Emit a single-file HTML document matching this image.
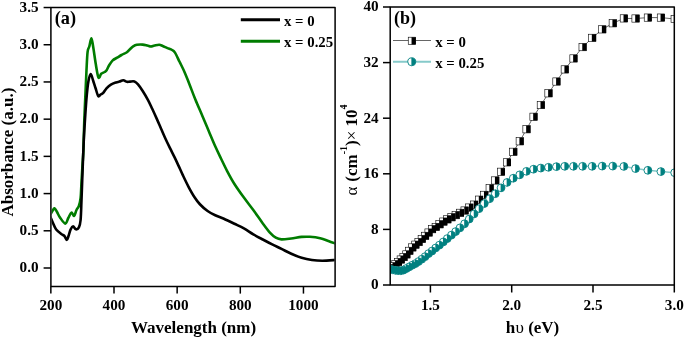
<!DOCTYPE html>
<html><head><meta charset="utf-8"><style>
html,body{margin:0;padding:0;background:#fff;width:685px;height:339px;overflow:hidden}
svg{display:block;will-change:transform;filter:blur(0.3px)}
</style></head><body>
<svg width="685" height="339" viewBox="0 0 685 339">
<defs><clipPath id="ca"><rect x="51.6" y="8.3" width="283" height="277.5"/></clipPath>
<clipPath id="cb"><rect x="390.3" y="7" width="284" height="278"/></clipPath></defs>
<rect width="685" height="339" fill="#fff"/>
<g clip-path="url(#ca)" fill="none" stroke-width="2.6" stroke-linejoin="round" stroke-linecap="round">
<path d="M50.60,214.00 C50.92,213.47 51.85,211.75 52.50,210.80 C53.15,209.85 53.75,208.10 54.50,208.30 C55.25,208.50 56.08,210.47 57.00,212.00 C57.92,213.53 58.62,215.57 60.00,217.50 C61.38,219.43 63.92,223.52 65.30,223.60 C66.68,223.68 67.28,219.83 68.30,218.00 C69.32,216.17 70.43,212.97 71.40,212.60 C72.37,212.23 73.25,216.23 74.10,215.80 C74.95,215.37 75.70,211.67 76.50,210.00 C77.30,208.33 78.22,207.80 78.90,205.80 C79.58,203.80 80.15,202.30 80.60,198.00 C81.05,193.70 81.28,185.50 81.60,180.00 C81.92,174.50 82.20,170.00 82.50,165.00 C82.80,160.00 83.10,157.50 83.40,150.00 C83.70,142.50 83.97,129.17 84.30,120.00 C84.63,110.83 85.03,103.33 85.40,95.00 C85.77,86.67 86.13,77.20 86.50,70.00 C86.87,62.80 87.13,55.72 87.60,51.80 C88.07,47.88 88.67,48.77 89.30,46.50 C89.93,44.23 90.75,38.12 91.40,38.20 C92.05,38.28 92.45,42.57 93.20,47.00 C93.95,51.43 95.02,59.70 95.90,64.80 C96.78,69.90 97.62,76.10 98.50,77.60 C99.38,79.10 100.17,74.73 101.20,73.80 C102.23,72.87 103.80,72.60 104.70,72.00 C105.60,71.40 105.88,71.28 106.60,70.20 C107.32,69.12 107.98,67.13 109.00,65.50 C110.02,63.87 111.35,61.70 112.70,60.40 C114.05,59.10 115.63,58.60 117.10,57.70 C118.57,56.80 119.87,55.92 121.50,55.00 C123.13,54.08 125.42,53.23 126.90,52.20 C128.38,51.17 129.35,49.78 130.40,48.80 C131.45,47.82 132.13,46.97 133.20,46.30 C134.27,45.63 135.22,45.08 136.80,44.80 C138.38,44.52 140.93,44.47 142.70,44.60 C144.47,44.73 146.03,45.28 147.40,45.60 C148.77,45.92 149.72,46.50 150.90,46.50 C152.08,46.50 153.12,45.88 154.50,45.60 C155.88,45.32 157.83,44.73 159.20,44.80 C160.57,44.87 161.33,45.45 162.70,46.00 C164.07,46.55 165.83,47.43 167.40,48.10 C168.97,48.77 170.83,49.25 172.10,50.00 C173.37,50.75 173.75,50.63 175.00,52.60 C176.25,54.57 177.95,58.50 179.57,61.80 C181.19,65.10 183.06,68.67 184.70,72.40 C186.34,76.13 187.65,79.68 189.43,84.20 C191.21,88.72 193.18,94.17 195.36,99.50 C197.54,104.83 200.24,110.87 202.50,116.20 C204.76,121.53 206.77,126.40 208.93,131.50 C211.09,136.60 213.45,142.30 215.46,146.80 C217.47,151.30 219.04,154.46 220.99,158.50 C222.94,162.54 224.94,166.87 227.15,171.07 C229.36,175.27 231.50,179.33 234.26,183.70 C237.02,188.07 240.53,192.92 243.70,197.30 C246.87,201.68 250.12,205.65 253.30,210.00 C256.48,214.35 260.03,219.65 262.80,223.40 C265.57,227.15 267.73,230.16 269.90,232.52 C272.07,234.88 273.87,236.44 275.80,237.58 C277.73,238.72 278.92,239.20 281.50,239.34 C284.08,239.48 287.95,238.84 291.30,238.43 C294.65,238.02 298.50,237.17 301.60,236.90 C304.70,236.63 306.80,236.58 309.90,236.80 C313.00,237.02 317.12,237.52 320.20,238.20 C323.28,238.88 325.77,239.97 328.40,240.90 C331.03,241.83 334.73,243.32 336.00,243.80" stroke="#007c00"/>
<path d="M50.60,217.40 C51.00,218.33 52.07,220.98 53.00,223.00 C53.93,225.02 54.82,227.67 56.20,229.50 C57.58,231.33 59.93,232.92 61.30,234.00 C62.67,235.08 63.47,235.00 64.40,236.00 C65.33,237.00 66.22,240.00 66.90,240.00 C67.58,240.00 67.88,237.75 68.50,236.00 C69.12,234.25 69.83,231.10 70.60,229.50 C71.37,227.90 72.23,226.43 73.10,226.40 C73.97,226.37 74.83,229.13 75.80,229.30 C76.77,229.47 78.10,228.95 78.90,227.40 C79.70,225.85 80.17,224.57 80.60,220.00 C81.03,215.43 81.17,208.33 81.50,200.00 C81.83,191.67 82.22,180.00 82.60,170.00 C82.98,160.00 83.35,149.17 83.80,140.00 C84.25,130.83 84.80,122.50 85.30,115.00 C85.80,107.50 86.28,100.58 86.80,95.00 C87.32,89.42 87.75,85.00 88.40,81.50 C89.05,78.00 89.92,74.17 90.70,74.00 C91.48,73.83 92.30,78.17 93.10,80.50 C93.90,82.83 94.65,85.42 95.50,88.00 C96.35,90.58 97.37,94.92 98.20,96.00 C99.03,97.08 99.70,94.97 100.50,94.50 C101.30,94.03 102.00,94.23 103.00,93.20 C104.00,92.17 105.18,89.73 106.50,88.30 C107.82,86.87 109.28,85.58 110.90,84.60 C112.52,83.62 114.77,82.90 116.20,82.40 C117.63,81.90 118.32,81.97 119.50,81.60 C120.68,81.23 122.07,80.17 123.30,80.20 C124.53,80.23 125.78,81.57 126.90,81.80 C128.02,82.03 128.75,81.65 130.00,81.60 C131.25,81.55 133.07,81.03 134.40,81.50 C135.73,81.97 136.62,82.82 138.00,84.40 C139.38,85.98 141.05,88.42 142.70,91.00 C144.35,93.58 146.33,96.95 147.90,99.87 C149.47,102.79 150.62,105.36 152.10,108.53 C153.58,111.70 155.28,115.47 156.80,118.87 C158.32,122.27 159.73,125.61 161.20,128.95 C162.67,132.29 164.13,135.73 165.60,138.93 C167.07,142.13 168.52,145.11 170.00,148.15 C171.48,151.19 173.07,154.23 174.50,157.18 C175.93,160.13 177.23,162.93 178.60,165.88 C179.97,168.83 181.07,171.44 182.70,174.88 C184.33,178.32 186.48,182.90 188.40,186.53 C190.32,190.16 192.28,193.74 194.20,196.69 C196.12,199.64 197.67,201.85 199.90,204.24 C202.13,206.63 205.05,209.18 207.60,211.02 C210.15,212.86 212.48,213.97 215.20,215.26 C217.92,216.54 220.70,217.32 223.90,218.73 C227.10,220.14 231.07,222.13 234.40,223.74 C237.73,225.35 240.75,226.64 243.90,228.40 C247.05,230.16 250.15,232.45 253.30,234.30 C256.45,236.15 259.65,237.82 262.80,239.50 C265.95,241.18 269.08,242.84 272.20,244.40 C275.32,245.96 278.32,247.30 281.50,248.87 C284.68,250.44 287.95,252.31 291.30,253.80 C294.65,255.29 298.17,256.77 301.60,257.80 C305.03,258.83 308.45,259.52 311.90,260.00 C315.35,260.48 318.28,260.70 322.30,260.70 C326.32,260.70 333.72,260.12 336.00,260.00" stroke="#000"/>
</g>
<g stroke="#000" stroke-width="1.5" fill="none" stroke-linejoin="round">
<rect x="50.9" y="7.6" width="284.2" height="278.9"/>
<line x1="43.6" y1="268.00" x2="50.9" y2="268.00"/>
<line x1="43.6" y1="230.79" x2="50.9" y2="230.79"/>
<line x1="43.6" y1="193.58" x2="50.9" y2="193.58"/>
<line x1="43.6" y1="156.37" x2="50.9" y2="156.37"/>
<line x1="43.6" y1="119.16" x2="50.9" y2="119.16"/>
<line x1="43.6" y1="81.95" x2="50.9" y2="81.95"/>
<line x1="43.6" y1="44.74" x2="50.9" y2="44.74"/>
<line x1="43.6" y1="7.53" x2="50.9" y2="7.53"/>
<line x1="50.85" y1="286.5" x2="50.85" y2="293.6"/>
<line x1="114.00" y1="286.5" x2="114.00" y2="293.6"/>
<line x1="177.15" y1="286.5" x2="177.15" y2="293.6"/>
<line x1="240.30" y1="286.5" x2="240.30" y2="293.6"/>
<line x1="303.45" y1="286.5" x2="303.45" y2="293.6"/>
</g>
<line x1="240.8" y1="19.8" x2="280" y2="19.8" stroke="#000" stroke-width="3"/>
<line x1="240.8" y1="41.3" x2="280" y2="41.3" stroke="#007c00" stroke-width="3"/>
<g font-family='"Liberation Serif", serif' font-weight="bold" fill="#000">
<text x="284" y="25.9" font-size="14.8">x = 0</text>
<text x="284" y="46.6" font-size="14.8">x = 0.25</text>
<text x="54.7" y="24.2" font-size="18.3">(a)</text>
<text x="38.6" y="272.30" font-size="15.2" text-anchor="end">0.0</text>
<text x="38.6" y="235.09" font-size="15.2" text-anchor="end">0.5</text>
<text x="38.6" y="197.88" font-size="15.2" text-anchor="end">1.0</text>
<text x="38.6" y="160.67" font-size="15.2" text-anchor="end">1.5</text>
<text x="38.6" y="123.46" font-size="15.2" text-anchor="end">2.0</text>
<text x="38.6" y="86.25" font-size="15.2" text-anchor="end">2.5</text>
<text x="38.6" y="49.04" font-size="15.2" text-anchor="end">3.0</text>
<text x="38.6" y="11.83" font-size="15.2" text-anchor="end">3.5</text>
<text x="50.85" y="310.0" font-size="15.2" text-anchor="middle">200</text>
<text x="114.00" y="310.0" font-size="15.2" text-anchor="middle">400</text>
<text x="177.15" y="310.0" font-size="15.2" text-anchor="middle">600</text>
<text x="240.30" y="310.0" font-size="15.2" text-anchor="middle">800</text>
<text x="303.45" y="310.0" font-size="15.2" text-anchor="middle">1000</text>
<text x="131" y="333" font-size="17">Wavelength (nm)</text>
<text transform="translate(13,216.6) rotate(-90)" font-size="17">Absorbance (a.u.)</text>
</g>
<g clip-path="url(#cb)">
<polyline points="674.69,19.00 660.91,17.60 647.88,17.60 635.55,18.50 623.86,18.41 612.77,23.27 602.22,29.37 592.18,37.88 582.62,47.11 573.49,58.45 564.78,69.42 556.45,81.53 548.48,93.32 540.85,105.05 533.53,116.78 526.51,129.25 519.76,141.31 513.28,151.81 507.05,162.35 501.05,171.79 495.27,180.47 489.69,188.31 484.32,194.89 479.13,199.68 474.12,204.62 469.28,207.56 464.60,210.52 460.07,212.85 455.69,215.13 451.45,217.29 447.33,219.38 443.35,221.61 439.48,224.31 435.73,226.95 432.08,229.18 428.55,232.56 425.11,235.89 421.77,239.03 418.52,242.07 415.36,244.69 412.28,247.45 409.29,250.87 406.37,254.44 403.53,257.06 400.77,259.54 398.07,262.03 395.44,264.22 392.87,266.32 390.37,268.22 387.92,269.31 385.54,270.26 383.21,271.37" fill="none" stroke="#666" stroke-width="1"/>
<polyline points="674.69,172.70 660.91,171.57 647.88,170.29 635.55,168.58 623.86,166.41 612.77,166.10 602.22,166.10 592.18,166.30 582.62,166.30 573.49,166.30 564.78,166.30 556.45,166.65 548.48,167.29 540.85,168.07 533.53,169.21 526.51,171.34 519.76,174.83 513.28,178.23 507.05,182.46 501.05,187.86 495.27,193.72 489.69,198.73 484.32,203.53 479.13,208.66 474.12,213.94 469.28,219.05 464.60,223.77 460.07,227.83 455.69,231.59 451.45,235.14 447.33,238.57 443.35,241.93 439.48,245.12 435.73,247.97 432.08,251.01 428.55,253.63 425.11,256.66 421.77,259.22 418.52,261.57 415.36,263.64 412.28,265.20 409.29,266.87 406.37,268.53 403.53,270.08 400.77,270.73 398.07,270.63 395.44,270.33 392.87,269.85 390.37,269.33 387.92,268.91 385.54,268.52 383.21,268.13" fill="none" stroke="#86caca" stroke-width="1.5"/>
<rect x="671.04" y="15.35" width="7.30" height="7.30" fill="#fff" stroke="#000" stroke-width="0.6"/>
<rect x="657.26" y="13.95" width="7.30" height="7.30" fill="#fff" stroke="#000" stroke-width="0.6"/>
<rect x="644.23" y="13.95" width="7.30" height="7.30" fill="#fff" stroke="#000" stroke-width="0.6"/>
<rect x="631.90" y="14.85" width="7.30" height="7.30" fill="#fff" stroke="#000" stroke-width="0.6"/>
<rect x="620.21" y="14.76" width="7.30" height="7.30" fill="#fff" stroke="#000" stroke-width="0.6"/>
<rect x="609.12" y="19.62" width="7.30" height="7.30" fill="#fff" stroke="#000" stroke-width="0.6"/>
<rect x="598.57" y="25.72" width="7.30" height="7.30" fill="#fff" stroke="#000" stroke-width="0.6"/>
<rect x="588.53" y="34.23" width="7.30" height="7.30" fill="#fff" stroke="#000" stroke-width="0.6"/>
<rect x="578.97" y="43.46" width="7.30" height="7.30" fill="#fff" stroke="#000" stroke-width="0.6"/>
<rect x="569.84" y="54.80" width="7.30" height="7.30" fill="#fff" stroke="#000" stroke-width="0.6"/>
<rect x="561.13" y="65.77" width="7.30" height="7.30" fill="#fff" stroke="#000" stroke-width="0.6"/>
<rect x="552.80" y="77.88" width="7.30" height="7.30" fill="#fff" stroke="#000" stroke-width="0.6"/>
<rect x="544.83" y="89.67" width="7.30" height="7.30" fill="#fff" stroke="#000" stroke-width="0.6"/>
<rect x="537.20" y="101.40" width="7.30" height="7.30" fill="#fff" stroke="#000" stroke-width="0.6"/>
<rect x="529.88" y="113.13" width="7.30" height="7.30" fill="#fff" stroke="#000" stroke-width="0.6"/>
<rect x="522.86" y="125.60" width="7.30" height="7.30" fill="#fff" stroke="#000" stroke-width="0.6"/>
<rect x="516.11" y="137.66" width="7.30" height="7.30" fill="#fff" stroke="#000" stroke-width="0.6"/>
<rect x="509.63" y="148.16" width="7.30" height="7.30" fill="#fff" stroke="#000" stroke-width="0.6"/>
<rect x="503.40" y="158.70" width="7.30" height="7.30" fill="#fff" stroke="#000" stroke-width="0.6"/>
<rect x="497.40" y="168.14" width="7.30" height="7.30" fill="#fff" stroke="#000" stroke-width="0.6"/>
<rect x="491.62" y="176.82" width="7.30" height="7.30" fill="#fff" stroke="#000" stroke-width="0.6"/>
<rect x="486.04" y="184.66" width="7.30" height="7.30" fill="#fff" stroke="#000" stroke-width="0.6"/>
<rect x="480.67" y="191.24" width="7.30" height="7.30" fill="#fff" stroke="#000" stroke-width="0.6"/>
<rect x="475.48" y="196.03" width="7.30" height="7.30" fill="#fff" stroke="#000" stroke-width="0.6"/>
<rect x="470.47" y="200.97" width="7.30" height="7.30" fill="#fff" stroke="#000" stroke-width="0.6"/>
<rect x="465.63" y="203.91" width="7.30" height="7.30" fill="#fff" stroke="#000" stroke-width="0.6"/>
<rect x="460.95" y="206.87" width="7.30" height="7.30" fill="#fff" stroke="#000" stroke-width="0.6"/>
<rect x="456.42" y="209.20" width="7.30" height="7.30" fill="#fff" stroke="#000" stroke-width="0.6"/>
<rect x="452.04" y="211.48" width="7.30" height="7.30" fill="#fff" stroke="#000" stroke-width="0.6"/>
<rect x="447.80" y="213.64" width="7.30" height="7.30" fill="#fff" stroke="#000" stroke-width="0.6"/>
<rect x="443.68" y="215.73" width="7.30" height="7.30" fill="#fff" stroke="#000" stroke-width="0.6"/>
<rect x="439.70" y="217.96" width="7.30" height="7.30" fill="#fff" stroke="#000" stroke-width="0.6"/>
<rect x="435.83" y="220.66" width="7.30" height="7.30" fill="#fff" stroke="#000" stroke-width="0.6"/>
<rect x="432.08" y="223.30" width="7.30" height="7.30" fill="#fff" stroke="#000" stroke-width="0.6"/>
<rect x="428.43" y="225.53" width="7.30" height="7.30" fill="#fff" stroke="#000" stroke-width="0.6"/>
<rect x="424.90" y="228.91" width="7.30" height="7.30" fill="#fff" stroke="#000" stroke-width="0.6"/>
<rect x="421.46" y="232.24" width="7.30" height="7.30" fill="#fff" stroke="#000" stroke-width="0.6"/>
<rect x="418.12" y="235.38" width="7.30" height="7.30" fill="#fff" stroke="#000" stroke-width="0.6"/>
<rect x="414.87" y="238.42" width="7.30" height="7.30" fill="#fff" stroke="#000" stroke-width="0.6"/>
<rect x="411.71" y="241.04" width="7.30" height="7.30" fill="#fff" stroke="#000" stroke-width="0.6"/>
<rect x="408.63" y="243.80" width="7.30" height="7.30" fill="#fff" stroke="#000" stroke-width="0.6"/>
<rect x="405.64" y="247.22" width="7.30" height="7.30" fill="#fff" stroke="#000" stroke-width="0.6"/>
<rect x="402.72" y="250.79" width="7.30" height="7.30" fill="#fff" stroke="#000" stroke-width="0.6"/>
<rect x="399.88" y="253.41" width="7.30" height="7.30" fill="#fff" stroke="#000" stroke-width="0.6"/>
<rect x="397.12" y="255.89" width="7.30" height="7.30" fill="#fff" stroke="#000" stroke-width="0.6"/>
<rect x="394.42" y="258.38" width="7.30" height="7.30" fill="#fff" stroke="#000" stroke-width="0.6"/>
<rect x="391.79" y="260.57" width="7.30" height="7.30" fill="#fff" stroke="#000" stroke-width="0.6"/>
<rect x="389.22" y="262.67" width="7.30" height="7.30" fill="#fff" stroke="#000" stroke-width="0.6"/>
<rect x="386.72" y="264.57" width="7.30" height="7.30" fill="#fff" stroke="#000" stroke-width="0.6"/>
<rect x="384.27" y="265.66" width="7.30" height="7.30" fill="#fff" stroke="#000" stroke-width="0.6"/>
<rect x="381.89" y="266.61" width="7.30" height="7.30" fill="#fff" stroke="#000" stroke-width="0.6"/>
<rect x="379.56" y="267.72" width="7.30" height="7.30" fill="#fff" stroke="#000" stroke-width="0.6"/>
<rect x="674.34" y="15.35" width="4.30" height="7.30" fill="#000"/>
<rect x="660.56" y="13.95" width="4.30" height="7.30" fill="#000"/>
<rect x="647.53" y="13.95" width="4.30" height="7.30" fill="#000"/>
<rect x="635.20" y="14.85" width="4.30" height="7.30" fill="#000"/>
<rect x="623.51" y="14.76" width="4.30" height="7.30" fill="#000"/>
<rect x="612.42" y="19.62" width="4.30" height="7.30" fill="#000"/>
<rect x="601.87" y="25.72" width="4.30" height="7.30" fill="#000"/>
<rect x="591.83" y="34.23" width="4.30" height="7.30" fill="#000"/>
<rect x="582.27" y="43.46" width="4.30" height="7.30" fill="#000"/>
<rect x="573.14" y="54.80" width="4.30" height="7.30" fill="#000"/>
<rect x="564.43" y="65.77" width="4.30" height="7.30" fill="#000"/>
<rect x="556.10" y="77.88" width="4.30" height="7.30" fill="#000"/>
<rect x="548.13" y="89.67" width="4.30" height="7.30" fill="#000"/>
<rect x="540.50" y="101.40" width="4.30" height="7.30" fill="#000"/>
<rect x="533.18" y="113.13" width="4.30" height="7.30" fill="#000"/>
<rect x="526.16" y="125.60" width="4.30" height="7.30" fill="#000"/>
<rect x="519.41" y="137.66" width="4.30" height="7.30" fill="#000"/>
<rect x="512.93" y="148.16" width="4.30" height="7.30" fill="#000"/>
<rect x="506.70" y="158.70" width="4.30" height="7.30" fill="#000"/>
<rect x="500.70" y="168.14" width="4.30" height="7.30" fill="#000"/>
<rect x="494.92" y="176.82" width="4.30" height="7.30" fill="#000"/>
<rect x="489.34" y="184.66" width="4.30" height="7.30" fill="#000"/>
<rect x="483.97" y="191.24" width="4.30" height="7.30" fill="#000"/>
<rect x="478.78" y="196.03" width="4.30" height="7.30" fill="#000"/>
<rect x="473.77" y="200.97" width="4.30" height="7.30" fill="#000"/>
<rect x="468.93" y="203.91" width="4.30" height="7.30" fill="#000"/>
<rect x="464.25" y="206.87" width="4.30" height="7.30" fill="#000"/>
<rect x="459.72" y="209.20" width="4.30" height="7.30" fill="#000"/>
<rect x="455.34" y="211.48" width="4.30" height="7.30" fill="#000"/>
<rect x="451.10" y="213.64" width="4.30" height="7.30" fill="#000"/>
<rect x="446.98" y="215.73" width="4.30" height="7.30" fill="#000"/>
<rect x="443.00" y="217.96" width="4.30" height="7.30" fill="#000"/>
<rect x="439.13" y="220.66" width="4.30" height="7.30" fill="#000"/>
<rect x="435.38" y="223.30" width="4.30" height="7.30" fill="#000"/>
<rect x="431.73" y="225.53" width="4.30" height="7.30" fill="#000"/>
<rect x="428.20" y="228.91" width="4.30" height="7.30" fill="#000"/>
<rect x="424.76" y="232.24" width="4.30" height="7.30" fill="#000"/>
<rect x="421.42" y="235.38" width="4.30" height="7.30" fill="#000"/>
<rect x="418.17" y="238.42" width="4.30" height="7.30" fill="#000"/>
<rect x="415.01" y="241.04" width="4.30" height="7.30" fill="#000"/>
<rect x="411.93" y="243.80" width="4.30" height="7.30" fill="#000"/>
<rect x="408.94" y="247.22" width="4.30" height="7.30" fill="#000"/>
<rect x="406.02" y="250.79" width="4.30" height="7.30" fill="#000"/>
<rect x="403.18" y="253.41" width="4.30" height="7.30" fill="#000"/>
<rect x="400.42" y="255.89" width="4.30" height="7.30" fill="#000"/>
<rect x="397.72" y="258.38" width="4.30" height="7.30" fill="#000"/>
<rect x="395.09" y="260.57" width="4.30" height="7.30" fill="#000"/>
<rect x="392.52" y="262.67" width="4.30" height="7.30" fill="#000"/>
<rect x="390.02" y="264.57" width="4.30" height="7.30" fill="#000"/>
<rect x="387.57" y="265.66" width="4.30" height="7.30" fill="#000"/>
<rect x="385.19" y="266.61" width="4.30" height="7.30" fill="#000"/>
<rect x="382.86" y="267.72" width="4.30" height="7.30" fill="#000"/>
<circle cx="674.69" cy="172.70" r="3.90" fill="#fff" stroke="#008080" stroke-width="0.9"/>
<circle cx="660.91" cy="171.57" r="3.90" fill="#fff" stroke="#008080" stroke-width="0.9"/>
<circle cx="647.88" cy="170.29" r="3.90" fill="#fff" stroke="#008080" stroke-width="0.9"/>
<circle cx="635.55" cy="168.58" r="3.90" fill="#fff" stroke="#008080" stroke-width="0.9"/>
<circle cx="623.86" cy="166.41" r="3.90" fill="#fff" stroke="#008080" stroke-width="0.9"/>
<circle cx="612.77" cy="166.10" r="3.90" fill="#fff" stroke="#008080" stroke-width="0.9"/>
<circle cx="602.22" cy="166.10" r="3.90" fill="#fff" stroke="#008080" stroke-width="0.9"/>
<circle cx="592.18" cy="166.30" r="3.90" fill="#fff" stroke="#008080" stroke-width="0.9"/>
<circle cx="582.62" cy="166.30" r="3.90" fill="#fff" stroke="#008080" stroke-width="0.9"/>
<circle cx="573.49" cy="166.30" r="3.90" fill="#fff" stroke="#008080" stroke-width="0.9"/>
<circle cx="564.78" cy="166.30" r="3.90" fill="#fff" stroke="#008080" stroke-width="0.9"/>
<circle cx="556.45" cy="166.65" r="3.90" fill="#fff" stroke="#008080" stroke-width="0.9"/>
<circle cx="548.48" cy="167.29" r="3.90" fill="#fff" stroke="#008080" stroke-width="0.9"/>
<circle cx="540.85" cy="168.07" r="3.90" fill="#fff" stroke="#008080" stroke-width="0.9"/>
<circle cx="533.53" cy="169.21" r="3.90" fill="#fff" stroke="#008080" stroke-width="0.9"/>
<circle cx="526.51" cy="171.34" r="3.90" fill="#fff" stroke="#008080" stroke-width="0.9"/>
<circle cx="519.76" cy="174.83" r="3.90" fill="#fff" stroke="#008080" stroke-width="0.9"/>
<circle cx="513.28" cy="178.23" r="3.90" fill="#fff" stroke="#008080" stroke-width="0.9"/>
<circle cx="507.05" cy="182.46" r="3.90" fill="#fff" stroke="#008080" stroke-width="0.9"/>
<circle cx="501.05" cy="187.86" r="3.90" fill="#fff" stroke="#008080" stroke-width="0.9"/>
<circle cx="495.27" cy="193.72" r="3.90" fill="#fff" stroke="#008080" stroke-width="0.9"/>
<circle cx="489.69" cy="198.73" r="3.90" fill="#fff" stroke="#008080" stroke-width="0.9"/>
<circle cx="484.32" cy="203.53" r="3.90" fill="#fff" stroke="#008080" stroke-width="0.9"/>
<circle cx="479.13" cy="208.66" r="3.90" fill="#fff" stroke="#008080" stroke-width="0.9"/>
<circle cx="474.12" cy="213.94" r="3.90" fill="#fff" stroke="#008080" stroke-width="0.9"/>
<circle cx="469.28" cy="219.05" r="3.90" fill="#fff" stroke="#008080" stroke-width="0.9"/>
<circle cx="464.60" cy="223.77" r="3.90" fill="#fff" stroke="#008080" stroke-width="0.9"/>
<circle cx="460.07" cy="227.83" r="3.90" fill="#fff" stroke="#008080" stroke-width="0.9"/>
<circle cx="455.69" cy="231.59" r="3.90" fill="#fff" stroke="#008080" stroke-width="0.9"/>
<circle cx="451.45" cy="235.14" r="3.90" fill="#fff" stroke="#008080" stroke-width="0.9"/>
<circle cx="447.33" cy="238.57" r="3.90" fill="#fff" stroke="#008080" stroke-width="0.9"/>
<circle cx="443.35" cy="241.93" r="3.90" fill="#fff" stroke="#008080" stroke-width="0.9"/>
<circle cx="439.48" cy="245.12" r="3.90" fill="#fff" stroke="#008080" stroke-width="0.9"/>
<circle cx="435.73" cy="247.97" r="3.90" fill="#fff" stroke="#008080" stroke-width="0.9"/>
<circle cx="432.08" cy="251.01" r="3.90" fill="#fff" stroke="#008080" stroke-width="0.9"/>
<circle cx="428.55" cy="253.63" r="3.90" fill="#fff" stroke="#008080" stroke-width="0.9"/>
<circle cx="425.11" cy="256.66" r="3.90" fill="#fff" stroke="#008080" stroke-width="0.9"/>
<circle cx="421.77" cy="259.22" r="3.90" fill="#fff" stroke="#008080" stroke-width="0.9"/>
<circle cx="418.52" cy="261.57" r="3.90" fill="#fff" stroke="#008080" stroke-width="0.9"/>
<circle cx="415.36" cy="263.64" r="3.90" fill="#fff" stroke="#008080" stroke-width="0.9"/>
<circle cx="412.28" cy="265.20" r="3.90" fill="#fff" stroke="#008080" stroke-width="0.9"/>
<circle cx="409.29" cy="266.87" r="3.90" fill="#fff" stroke="#008080" stroke-width="0.9"/>
<circle cx="406.37" cy="268.53" r="3.90" fill="#fff" stroke="#008080" stroke-width="0.9"/>
<circle cx="403.53" cy="270.08" r="3.90" fill="#fff" stroke="#008080" stroke-width="0.9"/>
<circle cx="400.77" cy="270.73" r="3.90" fill="#fff" stroke="#008080" stroke-width="0.9"/>
<circle cx="398.07" cy="270.63" r="3.90" fill="#fff" stroke="#008080" stroke-width="0.9"/>
<circle cx="395.44" cy="270.33" r="3.90" fill="#fff" stroke="#008080" stroke-width="0.9"/>
<circle cx="392.87" cy="269.85" r="3.90" fill="#fff" stroke="#008080" stroke-width="0.9"/>
<circle cx="390.37" cy="269.33" r="3.90" fill="#fff" stroke="#008080" stroke-width="0.9"/>
<circle cx="387.92" cy="268.91" r="3.90" fill="#fff" stroke="#008080" stroke-width="0.9"/>
<circle cx="385.54" cy="268.52" r="3.90" fill="#fff" stroke="#008080" stroke-width="0.9"/>
<circle cx="383.21" cy="268.13" r="3.90" fill="#fff" stroke="#008080" stroke-width="0.9"/>
<path d="M674.29,168.82A3.90,3.90 0 1 1 674.29,176.58Z" fill="#008080"/>
<path d="M660.51,167.69A3.90,3.90 0 1 1 660.51,175.45Z" fill="#008080"/>
<path d="M647.48,166.41A3.90,3.90 0 1 1 647.48,174.17Z" fill="#008080"/>
<path d="M635.15,164.70A3.90,3.90 0 1 1 635.15,172.46Z" fill="#008080"/>
<path d="M623.46,162.53A3.90,3.90 0 1 1 623.46,170.29Z" fill="#008080"/>
<path d="M612.37,162.22A3.90,3.90 0 1 1 612.37,169.98Z" fill="#008080"/>
<path d="M601.82,162.22A3.90,3.90 0 1 1 601.82,169.98Z" fill="#008080"/>
<path d="M591.78,162.42A3.90,3.90 0 1 1 591.78,170.18Z" fill="#008080"/>
<path d="M582.22,162.42A3.90,3.90 0 1 1 582.22,170.18Z" fill="#008080"/>
<path d="M573.09,162.42A3.90,3.90 0 1 1 573.09,170.18Z" fill="#008080"/>
<path d="M564.38,162.43A3.90,3.90 0 1 1 564.38,170.18Z" fill="#008080"/>
<path d="M556.05,162.77A3.90,3.90 0 1 1 556.05,170.53Z" fill="#008080"/>
<path d="M548.08,163.41A3.90,3.90 0 1 1 548.08,171.17Z" fill="#008080"/>
<path d="M540.45,164.19A3.90,3.90 0 1 1 540.45,171.95Z" fill="#008080"/>
<path d="M533.13,165.33A3.90,3.90 0 1 1 533.13,173.09Z" fill="#008080"/>
<path d="M526.11,167.46A3.90,3.90 0 1 1 526.11,175.22Z" fill="#008080"/>
<path d="M519.36,170.95A3.90,3.90 0 1 1 519.36,178.71Z" fill="#008080"/>
<path d="M512.88,174.35A3.90,3.90 0 1 1 512.88,182.11Z" fill="#008080"/>
<path d="M506.65,178.58A3.90,3.90 0 1 1 506.65,186.34Z" fill="#008080"/>
<path d="M500.65,183.98A3.90,3.90 0 1 1 500.65,191.73Z" fill="#008080"/>
<path d="M494.87,189.84A3.90,3.90 0 1 1 494.87,197.60Z" fill="#008080"/>
<path d="M489.29,194.85A3.90,3.90 0 1 1 489.29,202.61Z" fill="#008080"/>
<path d="M483.92,199.65A3.90,3.90 0 1 1 483.92,207.41Z" fill="#008080"/>
<path d="M478.73,204.78A3.90,3.90 0 1 1 478.73,212.54Z" fill="#008080"/>
<path d="M473.72,210.06A3.90,3.90 0 1 1 473.72,217.82Z" fill="#008080"/>
<path d="M468.88,215.17A3.90,3.90 0 1 1 468.88,222.93Z" fill="#008080"/>
<path d="M464.20,219.89A3.90,3.90 0 1 1 464.20,227.65Z" fill="#008080"/>
<path d="M459.67,223.95A3.90,3.90 0 1 1 459.67,231.71Z" fill="#008080"/>
<path d="M455.29,227.71A3.90,3.90 0 1 1 455.29,235.47Z" fill="#008080"/>
<path d="M451.05,231.26A3.90,3.90 0 1 1 451.05,239.02Z" fill="#008080"/>
<path d="M446.93,234.69A3.90,3.90 0 1 1 446.93,242.45Z" fill="#008080"/>
<path d="M442.95,238.05A3.90,3.90 0 1 1 442.95,245.81Z" fill="#008080"/>
<path d="M439.08,241.24A3.90,3.90 0 1 1 439.08,248.99Z" fill="#008080"/>
<path d="M435.33,244.09A3.90,3.90 0 1 1 435.33,251.85Z" fill="#008080"/>
<path d="M431.68,247.13A3.90,3.90 0 1 1 431.68,254.89Z" fill="#008080"/>
<path d="M428.15,249.75A3.90,3.90 0 1 1 428.15,257.50Z" fill="#008080"/>
<path d="M424.71,252.78A3.90,3.90 0 1 1 424.71,260.54Z" fill="#008080"/>
<path d="M421.37,255.34A3.90,3.90 0 1 1 421.37,263.10Z" fill="#008080"/>
<path d="M418.12,257.69A3.90,3.90 0 1 1 418.12,265.45Z" fill="#008080"/>
<path d="M414.96,259.76A3.90,3.90 0 1 1 414.96,267.52Z" fill="#008080"/>
<path d="M411.88,261.32A3.90,3.90 0 1 1 411.88,269.08Z" fill="#008080"/>
<path d="M408.89,262.99A3.90,3.90 0 1 1 408.89,270.74Z" fill="#008080"/>
<path d="M405.97,264.65A3.90,3.90 0 1 1 405.97,272.41Z" fill="#008080"/>
<path d="M403.13,266.20A3.90,3.90 0 1 1 403.13,273.96Z" fill="#008080"/>
<path d="M400.37,266.85A3.90,3.90 0 1 1 400.37,274.61Z" fill="#008080"/>
<path d="M397.67,266.75A3.90,3.90 0 1 1 397.67,274.51Z" fill="#008080"/>
<path d="M395.04,266.45A3.90,3.90 0 1 1 395.04,274.21Z" fill="#008080"/>
<path d="M392.47,265.97A3.90,3.90 0 1 1 392.47,273.73Z" fill="#008080"/>
<path d="M389.97,265.45A3.90,3.90 0 1 1 389.97,273.21Z" fill="#008080"/>
<path d="M387.52,265.04A3.90,3.90 0 1 1 387.52,272.79Z" fill="#008080"/>
<path d="M385.14,264.64A3.90,3.90 0 1 1 385.14,272.40Z" fill="#008080"/>
<path d="M382.81,264.25A3.90,3.90 0 1 1 382.81,272.01Z" fill="#008080"/>
</g>
<g stroke="#000" stroke-width="1.5" fill="none" stroke-linejoin="round">
<rect x="390.2" y="7" width="284.1" height="278"/>
<line x1="383" y1="285.00" x2="390.2" y2="285.00"/>
<line x1="383" y1="229.40" x2="390.2" y2="229.40"/>
<line x1="383" y1="173.80" x2="390.2" y2="173.80"/>
<line x1="383" y1="118.20" x2="390.2" y2="118.20"/>
<line x1="383" y1="62.60" x2="390.2" y2="62.60"/>
<line x1="383" y1="7.00" x2="390.2" y2="7.00"/>
<line x1="430.40" y1="285" x2="430.40" y2="292.5"/>
<line x1="511.70" y1="285" x2="511.70" y2="292.5"/>
<line x1="593.00" y1="285" x2="593.00" y2="292.5"/>
<line x1="674.30" y1="285" x2="674.30" y2="292.5"/>
</g>
<line x1="393" y1="40.5" x2="431" y2="40.5" stroke="#666" stroke-width="1.2"/>
<rect x="408.25" y="37.20" width="7.30" height="7.30" fill="#fff" stroke="#000" stroke-width="0.6"/><rect x="411.55" y="37.20" width="4.30" height="7.30" fill="#000"/>
<line x1="393" y1="61.7" x2="431" y2="61.7" stroke="#86caca" stroke-width="2"/>
<circle cx="411.75" cy="61.80" r="4.00" fill="#fff" stroke="#008080" stroke-width="0.9"/><path d="M411.35,57.82A4.00,4.00 0 1 1 411.35,65.78Z" fill="#008080"/>
<g font-family='"Liberation Serif", serif' font-weight="bold" fill="#000">
<text x="435.2" y="46.8" font-size="14.8">x = 0</text>
<text x="435.2" y="67.6" font-size="14.8">x = 0.25</text>
<text x="394" y="24" font-size="18">(b)</text>
<text x="378.6" y="289.30" font-size="15.2" text-anchor="end">0</text>
<text x="378.6" y="233.70" font-size="15.2" text-anchor="end">8</text>
<text x="378.6" y="178.10" font-size="15.2" text-anchor="end">16</text>
<text x="378.6" y="122.50" font-size="15.2" text-anchor="end">24</text>
<text x="378.6" y="66.90" font-size="15.2" text-anchor="end">32</text>
<text x="378.6" y="11.30" font-size="15.2" text-anchor="end">40</text>
<text x="430.40" y="310.0" font-size="15.2" text-anchor="middle">1.5</text>
<text x="511.70" y="310.0" font-size="15.2" text-anchor="middle">2.0</text>
<text x="593.00" y="310.0" font-size="15.2" text-anchor="middle">2.5</text>
<text x="674.30" y="310.0" font-size="15.2" text-anchor="middle">3.0</text>
<text x="505.7" y="333" font-size="17">h<tspan font-weight="normal" dx="0.3">υ</tspan> (eV)</text>
<text transform="translate(357,195.5) rotate(-90)" font-size="17"><tspan font-weight="normal">α</tspan><tspan dx="0.6"> (cm</tspan><tspan font-size="10" dy="-10.2">-1</tspan><tspan dy="10.2">)</tspan><tspan font-weight="normal">×</tspan><tspan dx="0.1"> 10</tspan><tspan font-size="10" dy="-10.2">4</tspan></text>
</g>
</svg>
</body></html>
